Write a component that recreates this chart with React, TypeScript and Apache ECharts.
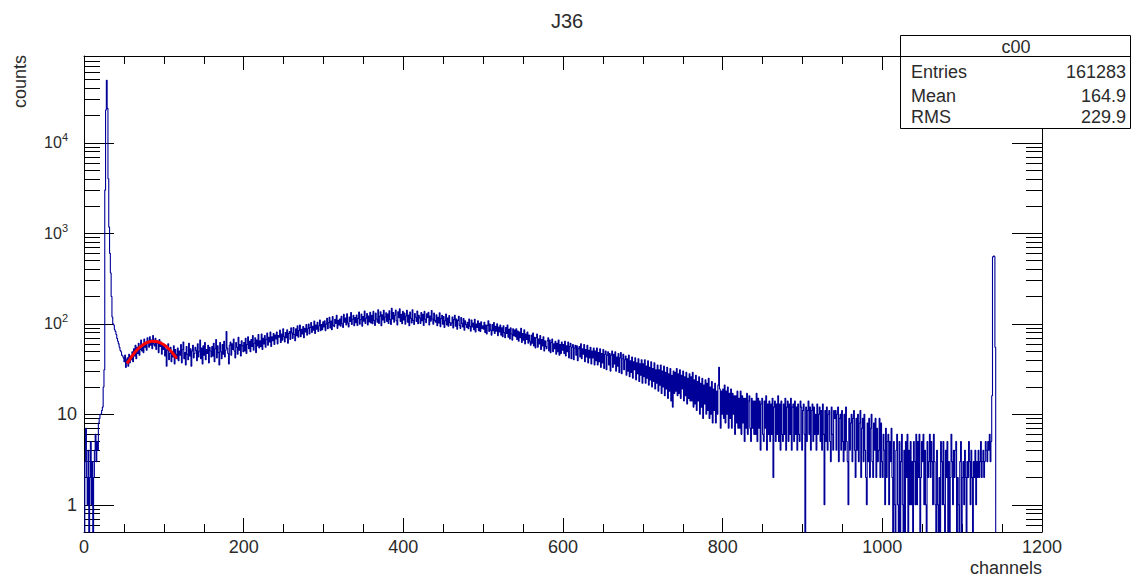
import React, { useEffect, useRef } from "react";
import * as echarts from "echarts";

// Histogram counts per channel (bin width = 1 channel)
const c0000 = [
  0, 3, 7, 2, 1, 4, 0, 2, 5, 1, 3, 0, 2, 4, 6, 3, 5, 4, 8, 9,
  10, 10, 11, 12, 20, 31, 3000, 23000, 49000, 24000, 4000, 1170, 600, 364, 200, 119, 100, 97, 86, 82,
  76, 69, 64, 60, 55, 51, 49, 45, 44, 42, 38, 45, 33, 40, 42, 34, 46, 37, 44, 40,
  49, 38, 53, 44, 58, 41, 55, 47, 61, 45, 52, 66, 50, 59, 48, 68, 55, 62, 51, 70,
  64, 55, 72, 58, 66, 53, 74, 60, 57, 69, 52, 65, 61, 48, 67, 56, 63, 46, 60, 52,
];
const c0100 = [
  58, 44, 53, 34, 51, 60, 40, 47, 55, 38, 49, 43, 57, 36, 52, 46, 41, 54, 39, 50,
  45, 59, 37, 52, 63, 41, 48, 35, 56, 46, 40, 61, 44, 53, 34, 50, 58, 42, 47, 55,
  51, 39, 60, 43, 49, 66, 41, 54, 36, 57, 45, 62, 40, 52, 47, 58, 37, 55, 50, 43,
  56, 44, 61, 38, 53, 67, 42, 57, 48, 35, 62, 49, 41, 59, 46, 64, 43, 51, 82, 54,
  47, 36, 58, 63, 45, 60, 52, 68, 50, 42, 62, 55, 46, 71, 51, 59, 44, 65, 57, 49,
];
const c0200 = [
  62, 50, 69, 47, 59, 72, 53, 64, 49, 67, 56, 74, 51, 61, 70, 48, 66, 57, 76, 54,
  65, 56, 77, 52, 69, 60, 74, 55, 67, 79, 58, 71, 63, 81, 56, 72, 65, 78, 59, 75,
  68, 81, 60, 74, 71, 85, 62, 77, 66, 88, 72, 63, 80, 70, 86, 61, 78, 82, 67, 90,
  79, 69, 91, 76, 65, 88, 74, 95, 71, 84, 97, 72, 87, 77, 93, 70, 89, 81, 98, 75,
  88, 99, 77, 91, 103, 80, 94, 85, 107, 78, 97, 87, 104, 82, 95, 110, 84, 98, 86, 105,
];
const c0300 = [
  92, 108, 84, 99, 115, 88, 103, 118, 90, 107, 86, 120, 96, 93, 112, 101, 124, 89, 109, 97,
  113, 94, 121, 100, 91, 127, 104, 116, 97, 129, 102, 92, 119, 106, 133, 98, 112, 124, 95, 117,
  103, 125, 96, 114, 135, 99, 111, 128, 94, 120, 107, 138, 101, 115, 130, 97, 122, 105, 134, 102,
  124, 100, 137, 109, 96, 131, 113, 104, 143, 101, 121, 136, 95, 126, 110, 141, 103, 119, 132, 106,
  128, 101, 139, 111, 98, 148, 113, 133, 104, 124, 142, 108, 97, 136, 117, 146, 106, 127, 100, 137,
];
const c0400 = [
  110, 131, 99, 122, 141, 104, 125, 95, 135, 115, 102, 143, 109, 98, 130, 118, 106, 138, 100, 124,
  116, 101, 133, 108, 127, 96, 137, 112, 103, 129, 117, 134, 97, 122, 107, 140, 113, 99, 131, 109,
  104, 126, 95, 118, 102, 132, 93, 114, 124, 99, 120, 91, 108, 128, 97, 116, 94, 123, 103, 96,
  102, 119, 90, 111, 124, 94, 113, 87, 109, 121, 96, 89, 117, 101, 92, 114, 85, 108, 98, 91,
  104, 88, 113, 94, 83, 110, 92, 102, 86, 112, 81, 99, 91, 108, 84, 101, 82, 105, 89, 95,
];
const c0500 = [
  87, 104, 80, 97, 77, 96, 108, 82, 99, 85, 75, 98, 84, 103, 78, 94, 83, 100, 74, 92,
  81, 97, 75, 90, 72, 95, 80, 70, 91, 78, 97, 71, 87, 68, 90, 77, 66, 88, 74, 85,
  72, 88, 67, 83, 64, 81, 70, 89, 62, 78, 66, 86, 60, 77, 67, 81, 61, 75, 64, 58,
  75, 61, 79, 57, 71, 54, 70, 77, 55, 68, 60, 74, 52, 67, 57, 72, 50, 65, 56, 53,
  65, 70, 50, 66, 48, 62, 68, 49, 60, 53, 64, 46, 61, 49, 66, 45, 59, 47, 63, 51,
];
const c0600 = [
  59, 47, 64, 44, 57, 49, 63, 42, 56, 61, 41, 55, 59, 40, 54, 58, 45, 57, 39, 53,
  56, 43, 60, 41, 53, 46, 59, 38, 52, 43, 58, 37, 51, 42, 55, 36, 50, 42, 54, 35,
  50, 39, 54, 35, 48, 38, 53, 33, 47, 37, 52, 32, 46, 50, 31, 45, 49, 35, 47, 30,
  45, 50, 33, 46, 36, 49, 30, 43, 34, 47, 29, 42, 48, 28, 41, 46, 31, 40, 44, 27,
  41, 30, 45, 26, 39, 29, 43, 25, 38, 31, 42, 24, 37, 28, 41, 23, 36, 27, 40, 22,
];
const c0700 = [
  36, 26, 40, 22, 34, 25, 39, 21, 33, 24, 38, 20, 32, 23, 37, 19, 31, 22, 35, 18,
  31, 21, 35, 17, 30, 20, 34, 16, 29, 19, 33, 15, 28, 18, 32, 14, 27, 12, 30, 17,
  29, 18, 32, 16, 28, 17, 31, 15, 27, 19, 30, 14, 26, 16, 29, 13, 25, 15, 28, 14,
  26, 14, 29, 12, 24, 13, 27, 11, 23, 14, 26, 10, 22, 12, 25, 9, 21, 13, 24, 10,
  22, 11, 25, 9, 20, 10, 23, 8, 19, 11, 22, 8, 18, 10, 21, 33, 19, 7, 18, 10,
];
const c0800 = [
  19, 9, 21, 8, 18, 10, 20, 7, 17, 9, 19, 7, 17, 10, 16, 6, 16, 8, 18, 7,
  15, 7, 18, 6, 16, 8, 15, 5, 15, 7, 17, 6, 14, 16, 7, 5, 15, 7, 14, 6,
  14, 6, 17, 5, 15, 7, 14, 4, 13, 15, 6, 5, 14, 7, 16, 4, 13, 6, 14, 5,
  13, 6, 15, 2, 12, 14, 5, 13, 6, 16, 5, 13, 4, 14, 6, 5, 13, 6, 15, 4,
  12, 14, 5, 13, 6, 15, 4, 12, 13, 5, 14, 6, 12, 4, 13, 6, 5, 14, 12, 4,
];
const c0900 = [
  11, 13, 6, 0, 12, 5, 11, 14, 6, 12, 4, 11, 13, 5, 12, 6, 10, 4, 13, 6,
  10, 12, 5, 11, 4, 13, 6, 1, 11, 5, 12, 4, 10, 11, 5, 3, 12, 6, 4, 11,
  9, 11, 4, 10, 12, 3, 9, 10, 4, 11, 5, 3, 10, 4, 12, 5, 3, 1, 9, 4,
  8, 10, 3, 9, 11, 4, 2, 9, 4, 10, 3, 8, 11, 2, 7, 9, 3, 10, 4, 2,
  1, 8, 3, 9, 2, 7, 10, 3, 2, 8, 4, 9, 2, 7, 3, 4, 9, 2, 8, 3,
];
const c1000 = [
  2, 6, 4, 1, 7, 2, 5, 6, 1, 5, 3, 7, 2, 0, 5, 1, 0, 4, 6, 1,
  0, 5, 0, 3, 6, 1, 0, 4, 0, 5, 2, 6, 0, 4, 1, 5, 1, 3, 0, 5,
  3, 1, 6, 1, 5, 2, 6, 0, 2, 5, 3, 6, 1, 4, 1, 0, 5, 2, 3, 6,
  2, 5, 3, 1, 6, 3, 1, 0, 4, 1, 0, 2, 0, 5, 3, 1, 5, 1, 0, 4,
  2, 5, 0, 3, 0, 2, 6, 3, 1, 4, 2, 4, 5, 0, 2, 1, 0, 3, 5, 0,
];
const c1100 = [
  2, 3, 1, 4, 2, 0, 3, 2, 5, 3, 1, 4, 2, 0, 3, 2, 4, 1, 3, 2,
  4, 2, 3, 5, 2, 3, 4, 2, 3, 5, 4, 3, 5, 4, 6, 3, 5, 16, 548, 561,
  552, 55, 0, 0, 0, 0, 0, 0, 0, 0, 0, 0, 0, 0, 0, 0, 0, 0, 0, 0,
  0, 0, 0, 0, 0, 0, 0, 0, 0, 0, 0, 0, 0, 0, 0, 0, 0, 0, 0, 0,
  0, 0, 0, 0, 0, 0, 0, 0, 0, 0, 0, 0, 0, 0, 0, 0, 0, 0, 0, 0,
];

const counts = [
  ...c0000, ...c0100, ...c0200, ...c0300, ...c0400, ...c0500,
  ...c0600, ...c0700, ...c0800, ...c0900, ...c1000, ...c1100,
];

// Gaussian fit curve (red)
const fitChannels = [54, 58, 62, 66, 70, 74, 78, 82, 86, 90, 94, 98, 102, 106, 110, 114, 116];
const fitValues = [36.3, 41.3, 46.2, 50.9, 55.1, 58.6, 61.4, 63.2, 64.0, 63.7, 62.4, 60.1, 56.9, 53.0, 48.6, 43.8, 41.3];

// Stats box
const statsTitle = "c00";
const statsNames = ["Entries", "Mean", "RMS"];
const statsValues = ["161283", "164.9", "229.9"];

const FONT = "'Liberation Sans', Arial, Helvetica, sans-serif";
const TXT = "#2b2b2b";

export default function App() {
  const ref = useRef<HTMLDivElement>(null);
  useEffect(() => {
    if (!ref.current) return;
    const chart = echarts.init(ref.current, undefined, { renderer: "svg" });

    const FLOOR = 0.01; // zero bins drop below the frame (clipped)
    const hist: number[][] = counts.map((v, i) => [i, v > 0 ? v : FLOOR]);
    const last = counts[counts.length - 1];
    hist.push([counts.length, last > 0 ? last : FLOOR]);
    const fit = fitChannels.map((c, i) => [c, fitValues[i]]);

    const yLabel = (v: number) => {
      const e = Math.log10(v);
      const r = Math.round(e);
      if (Math.abs(e - r) > 1e-6) return "";
      if (r === 0) return "{n|1}";
      if (r === 1) return "{n|10}";
      return "{b|10}{s|" + r + "}";
    };

    const xCommon = {
      type: "value",
      min: 0,
      max: 1200,
      interval: 200,
      splitLine: { show: false },
      minorSplitLine: { show: false },
      axisLine: { show: true, onZero: false, lineStyle: { color: "#000", width: 1 } },
      axisTick: { show: true, inside: true, length: 14, lineStyle: { color: "#000", width: 1 } },
      minorTick: { show: true, splitNumber: 4, length: 8, lineStyle: { color: "#000", width: 1 } },
    };
    const yCommon = {
      type: "log",
      logBase: 10,
      min: 0.5,
      max: 91000,
      splitLine: { show: false },
      minorSplitLine: { show: false },
      axisLine: { show: true, onZero: false, lineStyle: { color: "#000", width: 1 } },
      axisTick: { show: true, inside: true, length: 30, lineStyle: { color: "#000", width: 1 } },
      minorTick: { show: true, splitNumber: 9, length: 16, lineStyle: { color: "#000", width: 1 } },
    };

    const statsGraphics: any[] = [
      {
        type: "rect",
        z: 100,
        shape: { x: 900.5, y: 35.5, width: 230, height: 93 },
        style: { fill: "#fff", stroke: "#000", lineWidth: 1 },
      },
      {
        type: "line",
        z: 101,
        shape: { x1: 900.5, y1: 56.5, x2: 1130.5, y2: 56.5 },
        style: { stroke: "#000", lineWidth: 1 },
      },
      {
        type: "text",
        z: 101,
        x: 1016,
        y: 47,
        style: { text: statsTitle, align: "center", verticalAlign: "middle", fontSize: 18, fontFamily: FONT, fill: TXT },
      },
    ];
    const rowY = [72, 96, 117];
    statsNames.forEach((n, i) => {
      statsGraphics.push({
        type: "text",
        z: 101,
        x: 911,
        y: rowY[i],
        style: { text: n, align: "left", verticalAlign: "middle", fontSize: 18, fontFamily: FONT, fill: TXT },
      });
      statsGraphics.push({
        type: "text",
        z: 101,
        x: 1126,
        y: rowY[i],
        style: { text: statsValues[i], align: "right", verticalAlign: "middle", fontSize: 18, fontFamily: FONT, fill: TXT },
      });
    });

    const option: any = {
      animation: false,
      backgroundColor: "#fff",
      title: {
        text: "J36",
        left: 562,
        top: 6,
        textAlign: "center",
        textStyle: { fontFamily: FONT, fontSize: 20, fontWeight: "normal", color: TXT },
      },
      grid: { left: 84, right: 90, top: 56, bottom: 45, containLabel: false },
      xAxis: [
        {
          ...xCommon,
          position: "bottom",
          axisLabel: {
            show: true,
            margin: 6,
            fontFamily: FONT,
            fontSize: 18,
            color: TXT,
            formatter: (v: number) => String(v),
          },
        },
        {
          ...xCommon,
          position: "top",
          axisLabel: { show: false },
        },
      ],
      yAxis: [
        {
          ...yCommon,
          position: "left",
          axisLabel: {
            show: true,
            margin: 7,
            formatter: yLabel,
            showMinLabel: false,
            showMaxLabel: false,
            rich: {
              n: { fontFamily: FONT, fontSize: 18, color: TXT },
              b: { fontFamily: FONT, fontSize: 16, color: TXT, lineHeight: 22 },
              s: { fontFamily: FONT, fontSize: 11, color: TXT, verticalAlign: "top", lineHeight: 12, padding: [0, 9, 0, 0] },
            },
          },
        },
        {
          ...yCommon,
          position: "right",
          axisLabel: { show: false },
        },
      ],
      series: [
        {
          type: "line",
          name: "J36",
          xAxisIndex: 0,
          yAxisIndex: 0,
          step: "end",
          data: hist,
          symbol: "none",
          clip: true,
          lineStyle: { color: "#000099", width: 1.1 },
          z: 3,
        },
        {
          type: "line",
          name: "fit",
          xAxisIndex: 0,
          yAxisIndex: 0,
          smooth: true,
          data: fit,
          symbol: "none",
          clip: true,
          lineStyle: { color: "#ff0000", width: 3 },
          z: 4,
        },
      ],
      graphic: [
        {
          type: "text",
          z: 100,
          x: 20,
          y: 55,
          rotation: Math.PI / 2,
          style: { text: "counts", align: "right", verticalAlign: "middle", fontSize: 18, fontFamily: FONT, fill: TXT },
        },
        {
          type: "text",
          z: 100,
          x: 1042,
          y: 568,
          style: { text: "channels", align: "right", verticalAlign: "middle", fontSize: 18, fontFamily: FONT, fill: TXT },
        },
        ...statsGraphics,
      ],
    };
    chart.setOption(option);
    return () => chart.dispose();
  }, []);

  return (
    <div
      ref={ref}
      style={{ position: "absolute", left: 0, top: 0, width: 1132, height: 577 }}
    />
  );
}
